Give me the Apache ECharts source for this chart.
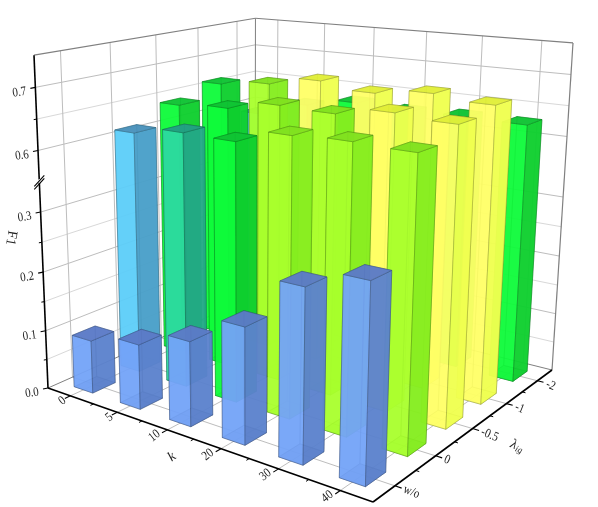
<!DOCTYPE html>
<html><head><meta charset="utf-8">
<style>html,body{margin:0;padding:0;background:#fff}#c{width:598px;height:507px}</style>
<script src="https://cdn.jsdelivr.net/npm/echarts@6/dist/echarts.min.js"></script>
</head><body><div id="c"></div>
<script>
const kLabels = ['0','5','10','20','30','40'];
const lambdaLabels = ['w/o','0','-0.5','-1','-2'];
const majorTicks = [0,0.1,0.2,0.3,0.6,0.7];
const minorTicks = [0.05,0.15,0.25,0.65];
const f1_wo   = [0.09,0.108,0.138,0.185,0.267,0.297];
const f1_0    = [0.612,0.625,0.624,0.646,0.65,0.648];
const f1_m05  = [0.64,0.646,0.662,0.66,0.673,0.668];
const f1_m1   = [0.66,0.67,0.685,0.675,0.685,0.678];
const f1_m2   = [0.589,0.616,0.631,0.627,0.63,0.629];
const rows = [f1_wo,f1_0,f1_m05,f1_m1,f1_m2];
const band_wo  = [0,0,0,0,0,0];
const band_0   = [1,2,3,4,4,4];
const band_m05 = [3,3,4,4,5,5];
const band_m1  = [3,4,5,5,5,5];
const band_m2  = [1,2,3,3,3,3];
const bands = [band_wo,band_0,band_m05,band_m1,band_m2];
const palette = [
 ['#73a3f7','#5a7fca','#5a78c4'],
 ['#5ccdf8','#489cc5','#4a8fb8'],
 ['#2cda9f','#22a585','#239c82'],
 ['#0ffb3a','#0ecc2e','#0fc033'],
 ['#a8ff2c','#83ec1e','#7fe01e'],
 ['#ffff66','#eeff4e','#dfee36']];

const A=[48,388],B=[373,502],C=[552,370],D=[255,296],At=[34,52],Ct=[573,46];
function homography(){
  const dx1=B[0]-C[0],dx2=D[0]-C[0],sx=A[0]-B[0]+C[0]-D[0];
  const dy1=B[1]-C[1],dy2=D[1]-C[1],sy=A[1]-B[1]+C[1]-D[1];
  const det=dx1*dy2-dx2*dy1;
  const g=(sx*dy2-dx2*sy)/det,h=(dx1*sy-sx*dy1)/det;
  return {a:B[0]-A[0]+g*B[0],b:D[0]-A[0]+h*D[0],c:A[0],d:B[1]-A[1]+g*B[1],e:D[1]-A[1]+h*D[1],f:A[1],g,h};
}
const Hm=homography();
function floorN(p,q){return [Hm.a*p+Hm.b*q+Hm.c,Hm.d*p+Hm.e*q+Hm.f,Hm.g*p+Hm.h*q+1];}
const nA=floorN(0,0),nC=floorN(1,1);
const rA=At[0]*nA[2]-nA[0],rC=Ct[0]*nC[2]-nC[0];
const wc=(rA-rC)/(Ct[0]-At[0]);
const wa=rA+At[0]*wc;
const wb=((At[1]*nA[2]-nA[1]+At[1]*wc)+(Ct[1]*nC[2]-nC[1]+Ct[1]*wc))/2;
function P(u,v,w){const n=floorN(u,v);const d=n[2]+wc*w;return [(n[0]+wa*w)/d,(n[1]+wb*w)/d];}

function hex2(c,s){const n=parseInt(c.slice(1),16);return [(n>>16)&255,(n>>8)&255,n&255].map(x=>Math.round(x*s));}
function rgba(c,s,a){return 'rgba('+hex2(c,s).join(',')+','+a+')';}

const barU=0.41,barV=0.47;
const nk=kLabels.length,nl=lambdaLabels.length;
const data=[];
rows.forEach((r,j)=>r.forEach((val,i)=>data.push([i,val,j])));
data.sort((a,b)=>(a[0]-a[2])-(b[0]-b[2]));

function renderItem(params,api){
  const i=api.value(0),val=api.value(1),j=api.value(2);
  const pt=api.coord([i,val]);
  const uc=pt[0]/100,w=(100-pt[1])/100,vc=(j+0.5)/nl;
  const hu=barU/nk/2,hv=barV/nl/2;
  const u0=uc-hu,u1=uc+hu,v0=vc-hv,v1=vc+hv;
  const pal=palette[bands[j][i]],order=(i-j+10)*10;
  const edge=rgba(pal[1],0.55,0.55);
  const face=(pts,c,a,k)=>({type:'polygon',z2:order+k,silent:true,shape:{points:pts},style:{fill:rgba(c,1,a),stroke:edge,lineWidth:0.7}});
  return {type:'group',children:[
    face([P(u0,v0,0),P(u1,v0,0),P(u1,v1,0),P(u0,v1,0)],pal[1],0.7,0),
    face([P(u0,v1,0),P(u1,v1,0),P(u1,v1,w),P(u0,v1,w)],pal[0],0.6,1),
    face([P(u0,v0,0),P(u0,v1,0),P(u0,v1,w),P(u0,v0,w)],pal[0],0.6,2),
    face([P(u0,v0,0),P(u1,v0,0),P(u1,v0,w),P(u0,v0,w)],pal[0],0.88,3),
    face([P(u1,v0,0),P(u1,v1,0),P(u1,v1,w),P(u1,v0,w)],pal[1],0.9,4),
    face([P(u0,v0,w),P(u1,v0,w),P(u1,v1,w),P(u0,v1,w)],pal[2],0.92,5)
  ]};
}

const chart=echarts.init(document.getElementById('c'),null,{renderer:'canvas'});
chart.setOption({
  animation:false,
  backgroundColor:'#fff',
  grid:{left:0,top:0,width:100,height:100,show:false},
  xAxis:{type:'category',data:kLabels,show:false},
  yAxis:{type:'value',min:0,max:0.75,show:false,breaks:[{start:0.35,end:0.55,gap:0}],breakArea:{show:false}},
  series:[{type:'custom',renderItem,data,z:5,encode:{x:0,y:1},clip:false,silent:true}]
});

const toW=v=>(100-chart.convertToPixel({yAxisIndex:0},v))/100;
const gfx=[];
function seg(p,q,stroke,lw){gfx.push({type:'line',silent:true,z:1,shape:{x1:p[0],y1:p[1],x2:q[0],y2:q[1]},style:{stroke,lineWidth:lw}});}
function label(text,p,rotDeg,opt){opt=opt||{};gfx.push({type:'text',silent:true,z:2,x:p[0],y:p[1],rotation:rotDeg*Math.PI/180,scaleX:opt.sx||0.85,scaleY:opt.sy||1,
  style:Object.assign({text,fill:'#222',font:(opt.fs||13)+'px "Liberation Serif"',textAlign:opt.align||'center',textVerticalAlign:'middle'},opt.style||{})});}
const gMaj='#bdbdbd',gMin='#d8d8d8',frame='#808080';
majorTicks.concat(minorTicks).forEach(v=>{
  const w=toW(v),col=majorTicks.includes(v)?gMaj:gMin;
  if(v===0)return;
  seg(P(0,0,w),P(0,1,w),col,1);seg(P(0,1,w),P(1,1,w),col,1);
});
lambdaLabels.forEach((l,j)=>{const v=(j+0.5)/nl;
  seg(P(0,v,0),P(0,v,1),gMaj,1);seg(P(0,v,0),P(1,v,0),gMaj,1);});
kLabels.forEach((l,i)=>{const u=(i+0.5)/nk;
  seg(P(u,1,0),P(u,1,1),gMaj,1);seg(P(u,0,0),P(u,1,0),gMaj,1);});
seg(P(0,0,0),P(0,1,0),frame,1);seg(P(0,1,0),P(1,1,0),frame,1);
seg(P(0,1,0),P(0,1,1),frame,1);seg(P(1,1,0),P(1,1,1),frame,1.2);
seg(P(0,0,1),P(0,1,1),frame,1.2);seg(P(0,1,1),P(1,1,1),frame,1.2);
seg(P(0,0,0),P(1,0,0),'#000',1.6);seg(P(1,0,0),P(1,1,0),'#000',1.6);seg(P(0,0,0),P(0,0,1),'#000',1.6);
majorTicks.forEach(v=>{const w=toW(v),b=P(0,0,w);seg(b,[b[0]-5,b[1]+1],'#000',1.1);
  label(v.toFixed(1),[b[0]-16,b[1]+5],8);});
minorTicks.forEach(v=>{const b=P(0,0,toW(v));seg(b,[b[0]-3,b[1]+0.5],'#000',1);});
const bk=P(0,0,toW(0.35));
gfx.push({type:'line',silent:true,z:3,shape:{x1:bk[0]-1,y1:bk[1]+1,x2:bk[0]+1,y2:bk[1]-2},style:{stroke:'#fff',lineWidth:3}});
seg([bk[0]-5,bk[1]+5],[bk[0]+5,bk[1]-6],'#000',1.1);gfx[gfx.length-1].z=4;
seg([bk[0]-5,bk[1]+8],[bk[0]+5,bk[1]-3],'#000',1.1);gfx[gfx.length-1].z=4;
for(let i=0;i<nk;i++){const u=(i+0.5)/nk;const b=P(u,0,0);seg(b,P(u,-0.022,0),'#000',1.1);
  const off=kLabels[i].length>1?[-13,6]:[-8,5];
  label(kLabels[i],[b[0]+off[0],b[1]+off[1]],38);
  if(i<nk-1){const m=(i+1)/nk;seg(P(m,0,0),P(m,-0.012,0),'#000',1);}}
for(let j=0;j<nl;j++){const v=(j+0.5)/nl;seg(P(1,v,0),P(1.017,v,0),'#000',1.1);
  const b=P(1,v,0);label(lambdaLabels[j],[b[0]+9,b[1]+3],-22,{align:'left'});
  if(j<nl-1){const m=(j+1)/nl;seg(P(1,m,0),P(1.009,m,0),'#000',1);}}
label('F1',[11,238],-100,{fs:14,sx:1});
label('k',[172,457],38,{fs:14,sx:1,style:{font:'italic 14px "Liberation Serif"'}});
label('{a|λ}{b|ig}',[517,446],-22,{fs:14,sx:1,style:{rich:{a:{font:'italic 14px "Liberation Serif"',fill:'#222'},b:{font:'italic 9px "Liberation Serif"',fill:'#222',padding:[6,0,0,0]}}}});
chart.setOption({graphic:{elements:gfx}});
</script></body></html>
